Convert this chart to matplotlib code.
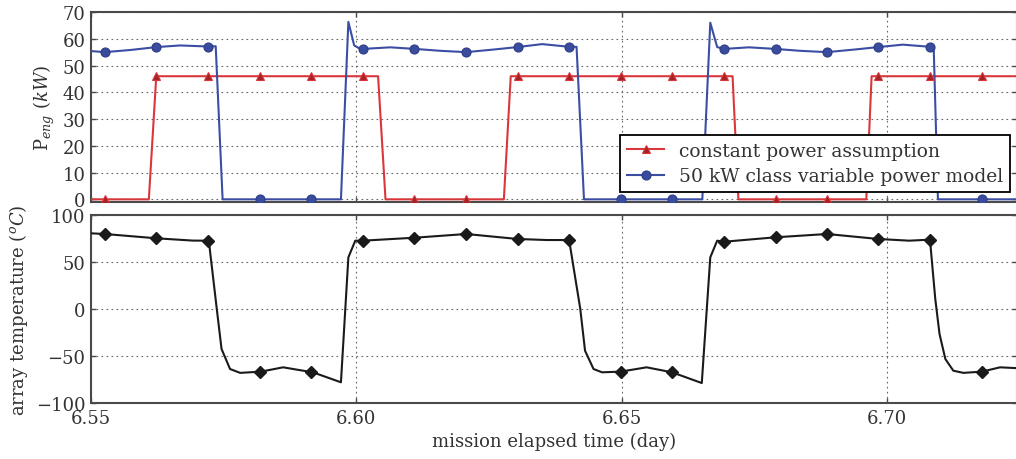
import matplotlib
matplotlib.use("Agg")
import matplotlib.pyplot as plt
from matplotlib.lines import Line2D

# ---------------- data ----------------
# marker sample times (day)
marker_t = [6.5526, 6.5623, 6.5720, 6.5818, 6.5915, 6.6012, 6.6109, 6.6207, 6.6304,
            6.6401, 6.6498, 6.6595, 6.6693, 6.6790, 6.6887, 6.6984, 6.7081, 6.7179]

# constant power assumption (kW)
const_t = [6.5500, 6.5609, 6.5623, 6.6041, 6.6055, 6.6278, 6.6291, 6.6709, 6.6720,
           6.6961, 6.6971, 6.7245]
const_p = [0, 0, 46, 46, 0, 0, 46, 46, 0, 0, 46, 46]
const_marker_p = [0, 46, 46, 46, 46, 46, 0, 0, 46, 46, 46, 46, 46, 0, 0, 46, 46, 46]

# 50 kW class variable power model (kW)
var_t = [6.5500, 6.5526, 6.5574, 6.5624, 6.5668, 6.5722, 6.5735, 6.5748, 6.5971,
         6.5985, 6.5996, 6.6004, 6.6012, 6.6064, 6.6111, 6.6158, 6.6207, 6.6260,
         6.6304, 6.6350, 6.6401, 6.6415, 6.6429, 6.6652, 6.6667, 6.6680, 6.6693,
         6.6740, 6.6790, 6.6836, 6.6887, 6.6940, 6.6984, 6.7030, 6.7081, 6.7088,
         6.7096, 6.7245]
var_p = [55.4, 55.0, 55.8, 56.9, 57.5, 57.1, 57.2, 0, 0,
         66.3, 57.5, 56.6, 56.2, 56.8, 56.2, 55.5, 55.0, 56.0,
         56.9, 58.0, 57.0, 57.0, 0, 0, 66.0, 56.9, 56.2,
         56.8, 56.2, 55.5, 55.0, 56.0, 56.9, 57.8, 57.0, 56.9,
         0, 0]
var_marker_p = [55.0, 56.9, 57.1, 0, 0, 56.2, 56.2, 55.0, 56.9, 57.0, 0, 0,
                56.2, 56.2, 55.0, 56.9, 57.0, 0]

# array temperature (deg C)
temp_t = [6.5501, 6.5526, 6.5624, 6.5692, 6.5722, 6.5737, 6.5746, 6.5762, 6.5781,
          6.5820, 6.5862, 6.5918, 6.5971, 6.5985, 6.5998, 6.6012,
          6.6111, 6.6207, 6.6304, 6.6359, 6.6401, 6.6422, 6.6431, 6.6447, 6.6463,
          6.6498, 6.6547, 6.6595, 6.6651, 6.6667, 6.6680, 6.6693,
          6.6790, 6.6887, 6.6984, 6.7042, 6.7081, 6.7091, 6.7099, 6.7110, 6.7125,
          6.7144, 6.7179, 6.7213, 6.7245]
temp_v = [80.2, 79.5, 74.9, 72.5, 72.4, 0, -42.6, -63.9, -68.0,
          -66.7, -62.1, -67.4, -78.0, 54.7, 72.4, 72.4,
          75.6, 79.5, 74.2, 73.1, 73.1, 0, -44.5, -63.9, -67.4,
          -66.7, -62.1, -67.4, -78.8, 54.7, 72.4, 71.3,
          76.0, 79.5, 74.2, 72.4, 73.5, 10.5, -26.7, -53.3, -65.7,
          -68.0, -66.7, -62.1, -63.0]
temp_marker_v = [79.5, 74.9, 72.4, -66.7, -67.4, 72.4, 75.6, 79.5, 74.2, 73.1,
                 -66.7, -67.4, 71.3, 76.0, 79.5, 74.2, 73.5, -66.7]

x_ticks = [6.55, 6.60, 6.65, 6.70]
x_ticklabels = ["6.55", "6.60", "6.65", "6.70"]
p_ticks = [0, 10, 20, 30, 40, 50, 60, 70]
t_ticks = [-100, -50, 0, 50, 100]

labels = ["constant power assumption", "50 kW class variable power model"]

# ---------------- style ----------------
plt.rcParams['font.family'] = ['DejaVu Serif']
plt.rcParams['mathtext.fontset'] = 'dejavuserif'
plt.rcParams['xtick.direction'] = 'in'
plt.rcParams['ytick.direction'] = 'in'
plt.rcParams['xtick.major.size'] = 3.5
plt.rcParams['ytick.major.size'] = 3.5

RED = "#d9373c"
RED_M = "#a52225"
BLUE = "#3b4ea3"
BLUE_M = "#3a4c9e"
SPINE = "#4a4a4a"
TXT = "#333333"

fig = plt.figure(figsize=(10.16, 4.60), dpi=100)
W, H = 1016.0, 460.0
left = 91 / W
right = 1017 / W
ax1 = fig.add_axes([left, 1 - 203 / H, right - left, (203 - 13) / H])
ax2 = fig.add_axes([left, 1 - 404 / H, right - left, (404 - 215.7) / H])

xlim = (6.55, 6.7245)

# top panel
ax1.plot(const_t, const_p, color=RED, lw=1.5, zorder=3)
ax1.plot(marker_t, const_marker_p, ls='none', marker='^', ms=6,
         mfc=RED_M, mec=RED, mew=0.8, zorder=4)
ax1.plot(var_t, var_p, color=BLUE, lw=1.5, zorder=3)
ax1.plot(marker_t, var_marker_p, ls='none', marker='o', ms=6.5,
         mfc=BLUE_M, mec="#2c3d85", mew=0.8, zorder=4)
ax1.set_xlim(*xlim)
ax1.set_ylim(-1, 70)
ax1.set_xticks(x_ticks)
ax1.set_xticklabels([])
ax1.set_yticks(p_ticks)
ax1.set_ylabel(r"P$_{eng}$ $(kW)$", fontsize=13, color=TXT)

handles = [
    Line2D([], [], color=RED, lw=1.5, marker='^', ms=6, mfc=RED_M, mec=RED, mew=0.8),
    Line2D([], [], color=BLUE, lw=1.5, marker='o', ms=6.5, mfc=BLUE_M, mec="#2c3d85", mew=0.8),
]
leg = ax1.legend(handles, labels, loc='lower right', bbox_to_anchor=(0.9924, 0.0526),
                 borderaxespad=0, fontsize=13.5, fancybox=False, framealpha=1,
                 edgecolor='black', handlelength=2.0, numpoints=1,
                 borderpad=0.35, labelspacing=0.42, handletextpad=0.8)
leg.get_frame().set_linewidth(1.3)
for t in leg.get_texts():
    t.set_color(TXT)

# bottom panel
ax2.plot(temp_t, temp_v, color="#1a1a1a", lw=1.5, zorder=3)
ax2.plot(marker_t, temp_marker_v, ls='none', marker='D', ms=6.5,
         mfc="#1a1a1a", mec="#1a1a1a", zorder=4)
ax2.set_xlim(*xlim)
ax2.set_ylim(-100, 100)
ax2.set_xticks(x_ticks)
ax2.set_xticklabels(x_ticklabels)
ax2.set_yticks(t_ticks)
ax2.set_ylabel(r"array temperature $(^oC)$", fontsize=13, color=TXT)
ax2.set_xlabel("mission elapsed time (day)", fontsize=13, color=TXT)

for ax in (ax1, ax2):
    ax.grid(True, ls=(0, (1.5, 3)), color="#666666", lw=0.8)
    ax.set_axisbelow(True)
    ax.tick_params(axis='both', labelsize=13, colors=TXT, width=1, length=3.5,
                   top=True, right=True, pad=4)
    ax.tick_params(axis='both', color=SPINE)
    for s in ax.spines.values():
        s.set_color(SPINE)
        s.set_linewidth(1.5)

fig.savefig("out.png", dpi=100)
